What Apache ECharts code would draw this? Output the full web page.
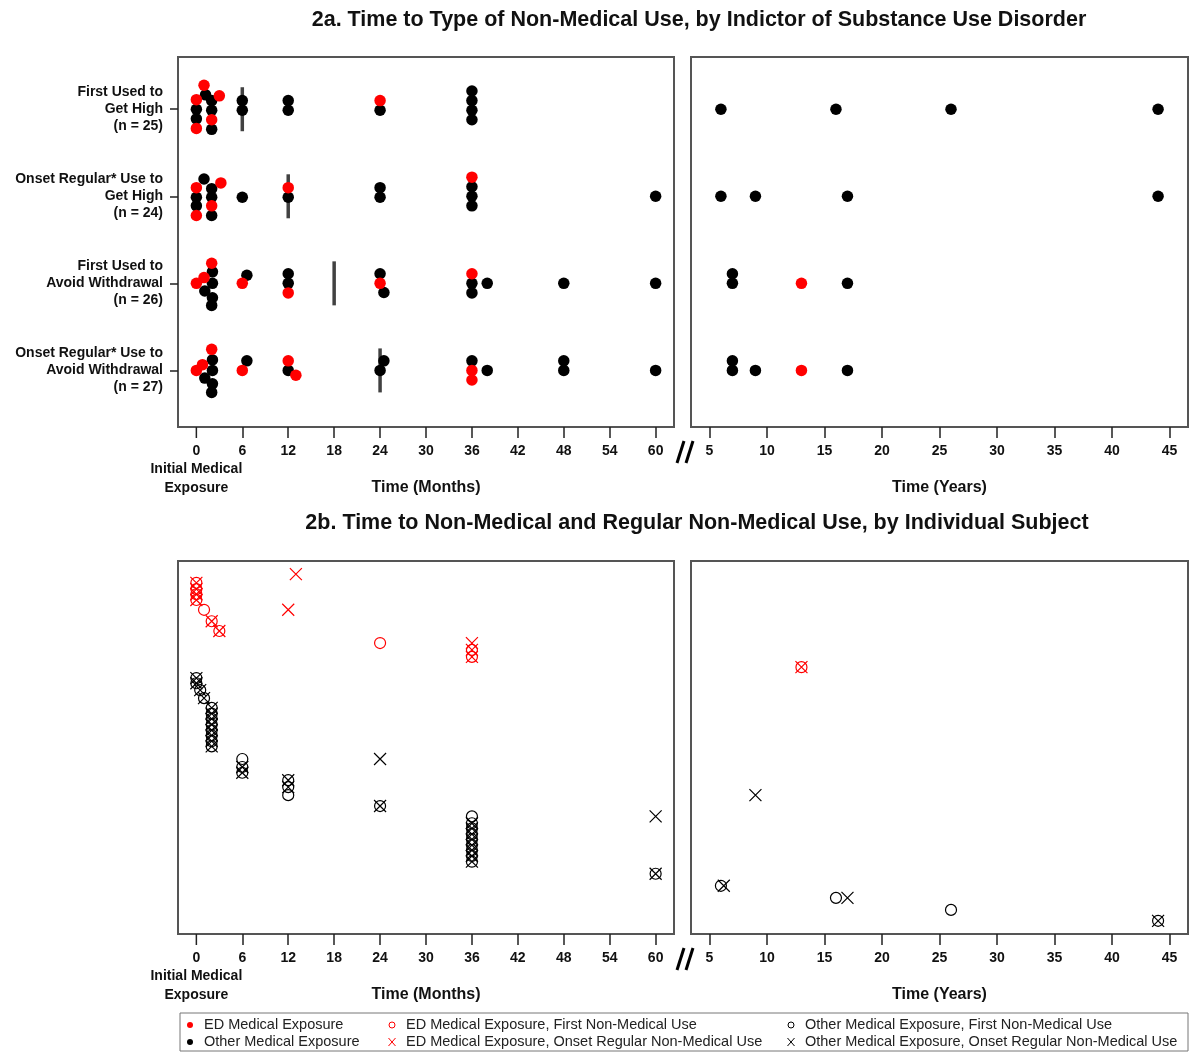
<!DOCTYPE html>
<html>
<head>
<meta charset="utf-8">
<script src="https://cdn.jsdelivr.net/npm/echarts@6/dist/echarts.min.js"></script>
<style>
  html, body { margin: 0; padding: 0; background: #fff; }
  #chart { width: 1193px; height: 1053px; }
</style>
</head>
<body>
<div id="chart"></div>
<script>
// ---- data ----
const rowLabels = [
  'First Used to\nGet High\n(n = 25)',
  'Onset Regular* Use to\nGet High\n(n = 24)',
  'First Used to\nAvoid Withdrawal\n(n = 26)',
  'Onset Regular* Use to\nAvoid Withdrawal\n(n = 27)'
]
const monthTicks = [0, 6, 12, 18, 24, 30, 36, 42, 48, 54, 60]
const yearTicks = [5, 10, 15, 20, 25, 30, 35, 40, 45]
const medianMonths = [6, 12, 18, 24]

// 2a points: [time, stack offset (dot widths), ED exposure 1/0]
const row1Months = [
  [0, -1, 1], [0, 0, 0], [0, 1, 0], [0, 2, 1],
  [1, -2.5, 1], [1.2, -1.5, 0],
  [2, -0.9, 0], [2, 0.1, 0], [2, 1.1, 1], [2, 2.1, 0],
  [3, -1.4, 1],
  [6, -0.9, 0], [6, 0.1, 0],
  [12, -0.9, 0], [12, 0.1, 0],
  [24, -0.9, 1], [24, 0.1, 0],
  [36, -1.9, 0], [36, -0.9, 0], [36, 0.1, 0], [36, 1.1, 0]
]
const row2Months = [
  [0, -0.9, 1], [0, 0.1, 0], [0, 1, 0], [0, 2, 1],
  [1, -1.8, 0],
  [2, -0.8, 0], [2, 0.1, 0], [2, 1, 1], [2, 2, 0],
  [3.2, -1.4, 1],
  [6, 0.1, 0],
  [12, -0.9, 1], [12, 0.1, 0],
  [24, -0.9, 0], [24, 0.1, 0],
  [36, -2, 1], [36, -1, 0], [36, 0, 0], [36, 1, 0],
  [60, 0, 0]
]
const row3Months = [
  [2, -2.1, 1], [2.1, -1.2, 0], [1, -0.6, 1], [0, 0, 1], [2.1, 0, 0],
  [1.1, 0.8, 0], [2.1, 1.5, 0], [2, 2.3, 0],
  [6.6, -0.85, 0], [6, 0, 1],
  [12, -1, 0], [12, 0, 0], [12, 1, 1],
  [24, -1, 0], [24, 0, 1], [24.5, 0.95, 0],
  [36, -1, 1], [36, 0, 0], [36, 1, 0], [38, 0, 0],
  [48, 0, 0], [60, 0, 0]
]
const row4Months = [
  [2, -2.2, 1], [2.1, -1.1, 0], [0.8, -0.6, 1], [0, 0, 1], [2.1, 0, 0],
  [1.1, 0.8, 0], [2.1, 1.4, 0], [2, 2.3, 0],
  [6.6, -1, 0], [6, 0, 1],
  [12, -1, 1], [12, 0, 0], [13, 0.5, 1],
  [24.5, -1, 0], [24, 0, 0],
  [36, -1, 0], [36, 0, 1], [36, 1, 1], [38, 0, 0],
  [48, -1, 0], [48, 0, 0], [60, 0, 0]
]
const row1Years = [[6, 0, 0], [16, 0, 0], [26, 0, 0], [44, 0, 0]]
const row2Years = [[6, 0, 0], [9, 0, 0], [17, 0, 0], [44, 0, 0]]
const row3Years = [[7, -1, 0], [7, 0, 0], [13, 0, 1], [17, 0, 0]]
const row4Years = [[7, -1, 0], [7, 0, 0], [9, 0, 0], [13, 0, 1], [17, 0, 0]]

// 2b subjects: vertical position, first non-medical use (months), onset regular use (months), ED exposure
const subjY = [
  62.7, 61.2, 60.1, 59.2, 58.2, 56.5, 54.5, 52.8, 50.7, 49.5, 48.3, 46.5,
  44.6, 43.7, 42.5, 41.1,
  39.4, 38.4, 37.5, 36.5, 35.5, 34.6, 33.6, 32.7,
  30.5, 29.1, 28.1, 26.8, 25.6, 24.2, 22.3, 20.5,
  19.3, 18.4, 17.4, 16.5, 15.5, 14.6, 13.6, 12.6,
  10.5, 8.4, 6.3, 4.2, 2.3
]
const firstUse = [
  null, 0, 0, 0, 0, 1, 2, 3, 24, 36, 36, 156,
  0, 0, 0.5, 1,
  2, 2, 2, 2, 2, 2, 2, 2,
  6, 6, 6, 12, 12, 12, 24, 36,
  36, 36, 36, 36, 36, 36, 36, 36,
  60, 72, 192, 312, 528
]
const regularUse = [
  13, 0, 0, 0, 0, 12, 2, 3, 36, 36, 36, 156,
  0, 0, 0.5, 1,
  2, 2, 2, 2, 2, 2, 2, 2,
  24, 6, 6, 12, 12, 108, 24, 60,
  36, 36, 36, 36, 36, 36, 36, 36,
  60, 75, 204, null, 528
]
const edFlag = [
  1, 1, 1, 1, 1, 1, 1, 1, 1, 1, 1, 1,
  0, 0, 0, 0,
  0, 0, 0, 0, 0, 0, 0, 0,
  0, 0, 0, 0, 0, 0, 0, 0,
  0, 0, 0, 0, 0, 0, 0, 0,
  0, 0, 0, 0, 0
]

// ---- build ----
const FONT = 'Liberation Sans, Arial, sans-serif'
const RED = '#ff0000'
const BLACK = '#000000'
const STEP = 0.11
const XPATH = 'path://M0,0L10,10M10,0L0,10'
const TICK_LEN = 11
const LABEL_GAP = 16

const monthRows = [row1Months, row2Months, row3Months, row4Months]
const yearRows = [row1Years, row2Years, row3Years, row4Years]

// the axis drops the tick at 0, so it is drawn separately below
const monthAxisTicks = monthTicks.filter(v => v !== 0)

function dots(rows, ed) {
  const out = []
  rows.forEach((pts, i) => {
    pts.forEach(p => {
      if (p[2] === ed) out.push([p[0], i + 1 + p[1] * STEP])
    })
  })
  return out
}

function marks(times, ed, years) {
  const out = []
  times.forEach((t, i) => {
    if (t === null || edFlag[i] !== ed) return
    if (!years && t <= 60) out.push([t, subjY[i]])
    if (years && t > 60) out.push([t / 12, subjY[i]])
  })
  return out
}

const chart = echarts.init(document.getElementById('chart'))

const gridBase = { show: true, borderColor: '#555', borderWidth: 2, backgroundColor: 'transparent' }

function xAxisOf(gi, years) {
  return {
    type: 'value',
    gridIndex: gi,
    min: years ? 3.4 : -2.4,
    max: years ? 46.6 : 62.4,
    splitLine: { show: false },
    axisLine: { show: false, onZero: false },
    axisTick: {
      show: true,
      customValues: years ? yearTicks : monthAxisTicks,
      length: TICK_LEN,
      lineStyle: { color: '#222', width: 1.5 }
    },
    axisLabel: {
      customValues: years ? yearTicks : monthAxisTicks,
      fontFamily: FONT,
      fontWeight: 'bold',
      fontSize: 14,
      lineHeight: 17,
      color: '#111',
      margin: LABEL_GAP
    },
    name: years ? 'Time (Years)' : 'Time (Months)',
    nameLocation: 'middle',
    nameGap: 53,
    nameTextStyle: { fontFamily: FONT, fontWeight: 'bold', fontSize: 16, color: '#111' }
  }
}

function yAxisOf(gi, top, labels) {
  const ax = {
    type: 'value',
    gridIndex: gi,
    splitLine: { show: false },
    axisLine: { show: false, onZero: false },
    axisTick: { show: false },
    axisLabel: { show: false }
  }
  if (top) {
    ax.inverse = true
    ax.min = 0.4
    ax.max = 4.65
  } else {
    ax.min = 0
    ax.max = 65
  }
  if (labels) {
    ax.axisTick = { show: true, customValues: [1, 2, 3, 4], length: 8, lineStyle: { color: '#222', width: 1.5 } }
    ax.axisLabel = {
      show: true,
      customValues: [1, 2, 3, 4],
      formatter: v => rowLabels[Math.round(v) - 1],
      fontFamily: FONT,
      fontWeight: 'bold',
      fontSize: 14,
      lineHeight: 17,
      color: '#111',
      align: 'right',
      margin: 15
    }
  }
  return ax
}

function dotSeries(gi, data, color) {
  return {
    type: 'scatter', xAxisIndex: gi, yAxisIndex: gi, data: data,
    symbol: 'circle', symbolSize: 11.5,
    itemStyle: { color: color, opacity: 1 },
    silent: true
  }
}

function circleSeries(gi, data, color) {
  return {
    type: 'scatter', xAxisIndex: gi, yAxisIndex: gi, data: data,
    symbol: 'circle', symbolSize: 11,
    itemStyle: { color: 'rgba(0,0,0,0)', borderColor: color, borderWidth: 1.2, opacity: 1 },
    silent: true
  }
}

function crossSeries(gi, data, color) {
  return {
    type: 'scatter', xAxisIndex: gi, yAxisIndex: gi, data: data,
    symbol: XPATH, symbolSize: 12,
    itemStyle: { color: 'rgba(0,0,0,0)', borderColor: color, borderWidth: 1.2, opacity: 1 },
    silent: true
  }
}

// legend pieces
const legendItems = [
  { x: 190, y: 1025, kind: 'dot', color: RED, text: 'ED Medical Exposure' },
  { x: 190, y: 1042, kind: 'dot', color: BLACK, text: 'Other Medical Exposure' },
  { x: 392, y: 1025, kind: 'ring', color: RED, text: 'ED Medical Exposure, First Non-Medical Use' },
  { x: 392, y: 1042, kind: 'cross', color: RED, text: 'ED Medical Exposure, Onset Regular Non-Medical Use' },
  { x: 791, y: 1025, kind: 'ring', color: BLACK, text: 'Other Medical Exposure, First Non-Medical Use' },
  { x: 791, y: 1042, kind: 'cross', color: BLACK, text: 'Other Medical Exposure, Onset Regular Non-Medical Use' }
]

const graphics = [
  {
    type: 'text', x: 699, y: 20,
    style: { text: '2a. Time to Type of Non-Medical Use, by Indictor of Substance Use Disorder', font: 'bold 21.5px ' + FONT, fill: '#111', textAlign: 'center', textVerticalAlign: 'middle' }
  },
  {
    type: 'text', x: 697, y: 523,
    style: { text: '2b. Time to Non-Medical and Regular Non-Medical Use, by Individual Subject', font: 'bold 21.5px ' + FONT, fill: '#111', textAlign: 'center', textVerticalAlign: 'middle' }
  },
  {
    type: 'rect', shape: { x: 180, y: 1013, width: 1008, height: 38 },
    style: { fill: 'none', stroke: '#777', lineWidth: 1 }
  }
]

// axis break marks
;[452, 959].forEach(cy => {
  graphics.push({ type: 'line', shape: { x1: 677, y1: cy + 11, x2: 684, y2: cy - 11 }, style: { stroke: '#000', lineWidth: 3 } })
  graphics.push({ type: 'line', shape: { x1: 686, y1: cy + 11, x2: 693, y2: cy - 11 }, style: { stroke: '#000', lineWidth: 3 } })
})

legendItems.forEach(it => {
  if (it.kind === 'dot') {
    graphics.push({ type: 'circle', shape: { cx: it.x, cy: it.y, r: 3 }, style: { fill: it.color } })
  } else if (it.kind === 'ring') {
    graphics.push({ type: 'circle', shape: { cx: it.x, cy: it.y, r: 3 }, style: { fill: 'none', stroke: it.color, lineWidth: 1 } })
  } else {
    graphics.push({ type: 'line', shape: { x1: it.x - 3.5, y1: it.y - 4, x2: it.x + 3.5, y2: it.y + 4 }, style: { stroke: it.color, lineWidth: 1 } })
    graphics.push({ type: 'line', shape: { x1: it.x - 3.5, y1: it.y + 4, x2: it.x + 3.5, y2: it.y - 4 }, style: { stroke: it.color, lineWidth: 1 } })
  }
  graphics.push({
    type: 'text', x: it.x + 14, y: it.y,
    style: { text: it.text, font: '14.5px ' + FONT, fill: '#222', textAlign: 'left', textVerticalAlign: 'middle' }
  })
})

const option = {
  animation: false,
  backgroundColor: '#fff',
  grid: [
    Object.assign({ left: 178, top: 57, width: 496, height: 370 }, gridBase),
    Object.assign({ left: 691, top: 57, width: 497, height: 370 }, gridBase),
    Object.assign({ left: 178, top: 561, width: 496, height: 373 }, gridBase),
    Object.assign({ left: 691, top: 561, width: 497, height: 373 }, gridBase)
  ],
  xAxis: [xAxisOf(0, false), xAxisOf(1, true), xAxisOf(2, false), xAxisOf(3, true)],
  yAxis: [yAxisOf(0, true, true), yAxisOf(1, true, false), yAxisOf(2, false, false), yAxisOf(3, false, false)],
  series: [
    {
      type: 'scatter', xAxisIndex: 0, yAxisIndex: 0,
      data: medianMonths.map((m, i) => [m, i + 1]),
      symbol: 'rect', symbolSize: [3.5, 44],
      itemStyle: { color: '#111' }, silent: true
    },
    dotSeries(0, dots(monthRows, 0), BLACK),
    dotSeries(0, dots(monthRows, 1), RED),
    dotSeries(1, dots(yearRows, 0), BLACK),
    dotSeries(1, dots(yearRows, 1), RED),
    circleSeries(2, marks(firstUse, 0, false), BLACK),
    crossSeries(2, marks(regularUse, 0, false), BLACK),
    circleSeries(2, marks(firstUse, 1, false), RED),
    crossSeries(2, marks(regularUse, 1, false), RED),
    circleSeries(3, marks(firstUse, 0, true), BLACK),
    crossSeries(3, marks(regularUse, 0, true), BLACK),
    circleSeries(3, marks(firstUse, 1, true), RED),
    crossSeries(3, marks(regularUse, 1, true), RED)
  ],
  graphic: graphics
}

chart.setOption(option)

// tick + label for month 0, placed through the axis scale
const zeroBits = []
;[[0, 4.65], [2, 0]].forEach(([gi, yBottom]) => {
  const p = chart.convertToPixel({ xAxisIndex: gi, yAxisIndex: gi }, [monthTicks[0], yBottom])
  zeroBits.push({ type: 'line', shape: { x1: p[0], y1: p[1], x2: p[0], y2: p[1] + TICK_LEN }, style: { stroke: '#222', lineWidth: 1.5 } })
  zeroBits.push({
    type: 'text', x: p[0], y: p[1] + LABEL_GAP - 1.5,
    style: { text: String(monthTicks[0]) + '\nInitial Medical\nExposure', font: 'bold 14px ' + FONT, lineHeight: 18.5, fill: '#111', textAlign: 'center', textVerticalAlign: 'top' }
  })
})
chart.setOption({ graphic: graphics.concat(zeroBits) })
</script>
</body>
</html>
